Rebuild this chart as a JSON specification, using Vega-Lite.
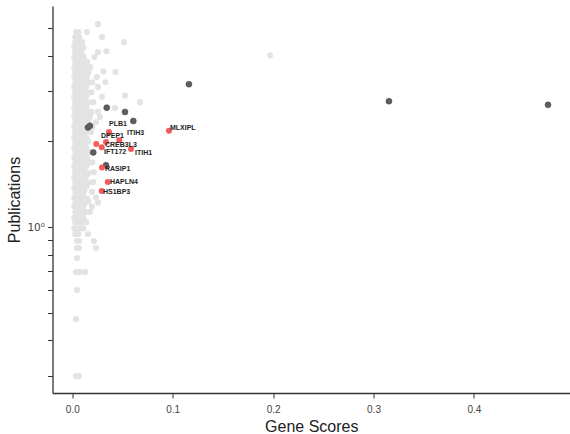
{
  "$schema": "https://vega.github.io/schema/vega-lite/v6.json",
  "autosize": {"type": "none"},
  "width": 517.5,
  "height": 387,
  "padding": {"left": 52.5, "top": 6, "right": 0, "bottom": 41},
  "background": "white",
  "config": {
    "view": {"stroke": null},
    "font": "Liberation Sans",
    "axis": {
      "grid": false,
      "domainColor": "#333333",
      "domainWidth": 1.3,
      "tickColor": "#333333",
      "tickWidth": 1,
      "tickSize": 5,
      "labelFont": "Liberation Sans",
      "labelFontSize": 10,
      "labelColor": "#444444",
      "titleFont": "Liberation Sans",
      "titleFontSize": 16,
      "titleFontWeight": "normal",
      "titleColor": "#222222"
    }
  },
  "datasets": {
    "other": [
      {"score":0.0256,"pubs":5.17},
      {"score":0.004,"pubs":4.85},{"score":0.006,"pubs":4.85},{"score":0.0146,"pubs":4.85},
      {"score":0.003,"pubs":4.66},{"score":0.007,"pubs":4.66},{"score":0.0296,"pubs":4.66},
      {"score":0.003,"pubs":4.47},{"score":0.006,"pubs":4.47},{"score":0.010,"pubs":4.47},{"score":0.0515,"pubs":4.47},
      {"score":0.002,"pubs":4.30},{"score":0.005,"pubs":4.30},{"score":0.008,"pubs":4.32},{"score":0.011,"pubs":4.28},
      {"score":0.003,"pubs":4.12},{"score":0.006,"pubs":4.12},{"score":0.009,"pubs":4.14},{"score":0.0256,"pubs":4.12},{"score":0.034,"pubs":4.15},
      {"score":0.197,"pubs":4.02},
      {"score":0.002,"pubs":3.96},{"score":0.005,"pubs":3.98},{"score":0.008,"pubs":3.95},{"score":0.0115,"pubs":3.97},{"score":0.022,"pubs":3.96},
      {"score":0.003,"pubs":3.80},{"score":0.006,"pubs":3.80},{"score":0.009,"pubs":3.82},{"score":0.012,"pubs":3.79},{"score":0.015,"pubs":3.81},
      {"score":0.002,"pubs":3.65},{"score":0.005,"pubs":3.66},{"score":0.008,"pubs":3.64},{"score":0.011,"pubs":3.66},{"score":0.014,"pubs":3.64},{"score":0.018,"pubs":3.65},
      {"score":0.003,"pubs":3.51},{"score":0.006,"pubs":3.52},{"score":0.009,"pubs":3.50},{"score":0.012,"pubs":3.52},{"score":0.016,"pubs":3.50},{"score":0.031,"pubs":3.53},{"score":0.043,"pubs":3.51},
      {"score":0.002,"pubs":3.37},{"score":0.005,"pubs":3.38},{"score":0.008,"pubs":3.36},{"score":0.011,"pubs":3.38},{"score":0.0145,"pubs":3.37},{"score":0.0246,"pubs":3.37},
      {"score":0.003,"pubs":3.23},{"score":0.006,"pubs":3.24},{"score":0.009,"pubs":3.22},{"score":0.012,"pubs":3.24},{"score":0.016,"pubs":3.22},{"score":0.020,"pubs":3.23},{"score":0.033,"pubs":3.23},
      {"score":0.002,"pubs":3.11},{"score":0.005,"pubs":3.10},{"score":0.008,"pubs":3.12},{"score":0.011,"pubs":3.10},{"score":0.014,"pubs":3.12},{"score":0.0256,"pubs":3.11},
      {"score":0.003,"pubs":2.98},{"score":0.006,"pubs":2.99},{"score":0.009,"pubs":2.97},{"score":0.012,"pubs":2.99},{"score":0.015,"pubs":2.97},{"score":0.019,"pubs":2.98},
      {"score":0.002,"pubs":2.87},{"score":0.005,"pubs":2.86},{"score":0.008,"pubs":2.88},{"score":0.011,"pubs":2.86},{"score":0.014,"pubs":2.88},{"score":0.0296,"pubs":2.87},{"score":0.0525,"pubs":2.90},
      {"score":0.003,"pubs":2.75},{"score":0.006,"pubs":2.76},{"score":0.009,"pubs":2.74},{"score":0.012,"pubs":2.76},{"score":0.016,"pubs":2.74},{"score":0.021,"pubs":2.75},{"score":0.0675,"pubs":2.75},
      {"score":0.002,"pubs":2.64},{"score":0.005,"pubs":2.65},{"score":0.008,"pubs":2.63},{"score":0.011,"pubs":2.65},{"score":0.014,"pubs":2.63},{"score":0.0425,"pubs":2.62},
      {"score":0.003,"pubs":2.54},{"score":0.006,"pubs":2.53},{"score":0.009,"pubs":2.55},{"score":0.012,"pubs":2.53},{"score":0.015,"pubs":2.55},{"score":0.019,"pubs":2.54},{"score":0.0256,"pubs":2.54},
      {"score":0.002,"pubs":2.44},{"score":0.005,"pubs":2.45},{"score":0.008,"pubs":2.43},{"score":0.011,"pubs":2.45},{"score":0.014,"pubs":2.43},{"score":0.0176,"pubs":2.44},{"score":0.0276,"pubs":2.44},
      {"score":0.003,"pubs":2.34},{"score":0.006,"pubs":2.35},{"score":0.009,"pubs":2.33},{"score":0.012,"pubs":2.35},{"score":0.016,"pubs":2.33},{"score":0.0236,"pubs":2.34},
      {"score":0.002,"pubs":2.25},{"score":0.005,"pubs":2.26},{"score":0.008,"pubs":2.24},{"score":0.011,"pubs":2.26},{"score":0.020,"pubs":2.25},
      {"score":0.003,"pubs":2.16},{"score":0.006,"pubs":2.15},{"score":0.009,"pubs":2.17},{"score":0.012,"pubs":2.15},{"score":0.015,"pubs":2.17},{"score":0.0186,"pubs":2.16},
      {"score":0.002,"pubs":2.07},{"score":0.005,"pubs":2.08},{"score":0.008,"pubs":2.06},{"score":0.011,"pubs":2.08},{"score":0.014,"pubs":2.06},
      {"score":0.003,"pubs":1.99},{"score":0.006,"pubs":1.98},{"score":0.009,"pubs":2.00},{"score":0.012,"pubs":1.98},{"score":0.016,"pubs":2.00},
      {"score":0.002,"pubs":1.91},{"score":0.005,"pubs":1.92},{"score":0.008,"pubs":1.90},{"score":0.011,"pubs":1.92},{"score":0.014,"pubs":1.90},
      {"score":0.003,"pubs":1.84},{"score":0.006,"pubs":1.83},{"score":0.009,"pubs":1.85},{"score":0.013,"pubs":1.83},{"score":0.0176,"pubs":1.84},
      {"score":0.002,"pubs":1.76},{"score":0.005,"pubs":1.77},{"score":0.008,"pubs":1.75},{"score":0.011,"pubs":1.77},{"score":0.015,"pubs":1.75},
      {"score":0.003,"pubs":1.69},{"score":0.006,"pubs":1.70},{"score":0.009,"pubs":1.68},{"score":0.012,"pubs":1.70},{"score":0.016,"pubs":1.68},{"score":0.020,"pubs":1.69},
      {"score":0.002,"pubs":1.63},{"score":0.005,"pubs":1.62},{"score":0.008,"pubs":1.64},{"score":0.011,"pubs":1.62},{"score":0.014,"pubs":1.64},
      {"score":0.003,"pubs":1.56},{"score":0.006,"pubs":1.57},{"score":0.009,"pubs":1.55},{"score":0.012,"pubs":1.57},{"score":0.016,"pubs":1.55},{"score":0.0216,"pubs":1.56},
      {"score":0.002,"pubs":1.50},{"score":0.005,"pubs":1.49},{"score":0.008,"pubs":1.51},{"score":0.011,"pubs":1.49},{"score":0.014,"pubs":1.51},
      {"score":0.003,"pubs":1.44},{"score":0.006,"pubs":1.45},{"score":0.009,"pubs":1.43},{"score":0.012,"pubs":1.45},{"score":0.016,"pubs":1.43},{"score":0.021,"pubs":1.44},
      {"score":0.002,"pubs":1.38},{"score":0.005,"pubs":1.37},{"score":0.008,"pubs":1.39},{"score":0.011,"pubs":1.37},{"score":0.014,"pubs":1.39},
      {"score":0.003,"pubs":1.33},{"score":0.006,"pubs":1.34},{"score":0.009,"pubs":1.32},{"score":0.012,"pubs":1.34},{"score":0.0196,"pubs":1.33},
      {"score":0.002,"pubs":1.27},{"score":0.005,"pubs":1.28},{"score":0.008,"pubs":1.26},{"score":0.011,"pubs":1.28},{"score":0.015,"pubs":1.26},{"score":0.0236,"pubs":1.27},
      {"score":0.003,"pubs":1.22},{"score":0.006,"pubs":1.21},{"score":0.009,"pubs":1.23},{"score":0.012,"pubs":1.21},{"score":0.016,"pubs":1.23},{"score":0.0256,"pubs":1.22},
      {"score":0.002,"pubs":1.18},{"score":0.005,"pubs":1.17},{"score":0.008,"pubs":1.18},{"score":0.011,"pubs":1.17},{"score":0.0196,"pubs":1.18},
      {"score":0.003,"pubs":1.13},{"score":0.006,"pubs":1.13},{"score":0.009,"pubs":1.13},{"score":0.013,"pubs":1.13},{"score":0.0176,"pubs":1.13},
      {"score":0.002,"pubs":1.08},{"score":0.005,"pubs":1.08},{"score":0.008,"pubs":1.08},{"score":0.011,"pubs":1.08},
      {"score":0.003,"pubs":1.04},{"score":0.006,"pubs":1.04},{"score":0.009,"pubs":1.04},{"score":0.014,"pubs":1.04},
      {"score":0.002,"pubs":0.99},{"score":0.005,"pubs":0.99},{"score":0.008,"pubs":0.99},{"score":0.011,"pubs":0.99},
      {"score":0.003,"pubs":0.945},{"score":0.006,"pubs":0.945},{"score":0.0156,"pubs":0.945},
      {"score":0.0047,"pubs":0.893},{"score":0.0067,"pubs":0.893},{"score":0.0216,"pubs":0.893},
      {"score":0.0047,"pubs":0.844},{"score":0.0067,"pubs":0.844},{"score":0.0236,"pubs":0.844},
      {"score":0.0047,"pubs":0.778},
      {"score":0.0037,"pubs":0.695},{"score":0.0057,"pubs":0.695},{"score":0.0077,"pubs":0.695},{"score":0.0126,"pubs":0.695},
      {"score":0.0047,"pubs":0.600},
      {"score":0.0037,"pubs":0.475},
      {"score":0.0037,"pubs":0.299},{"score":0.0067,"pubs":0.299}
    ],
    "known": [
      {"score":0.1162,"pubs":3.18},
      {"score":0.3154,"pubs":2.77},
      {"score":0.4738,"pubs":2.69},
      {"score":0.0343,"pubs":2.63},
      {"score":0.0525,"pubs":2.54},
      {"score":0.0608,"pubs":2.36},
      {"score":0.0156,"pubs":2.24},
      {"score":0.0176,"pubs":2.27},
      {"score":0.0209,"pubs":1.83},
      {"score":0.0336,"pubs":1.65}
    ],
    "hits": [
      {"gene":"PLB1","score":0.0366,"pubs":2.16,"lscore":0.0366,"lpubs":2.30},
      {"gene":"ITIH3","score":0.0468,"pubs":2.02,"lscore":0.0545,"lpubs":2.14},
      {"gene":"MLXIPL","score":0.0963,"pubs":2.18,"lscore":0.0973,"lpubs":2.23},
      {"gene":"DPEP1","score":0.0336,"pubs":1.99,"lscore":0.0286,"lpubs":2.09},
      {"gene":"CREB3L3","score":0.0293,"pubs":1.91,"lscore":0.0326,"lpubs":1.94},
      {"gene":"IFT172","score":0.0239,"pubs":1.96,"lscore":0.0316,"lpubs":1.84},
      {"gene":"ITIH1","score":0.0585,"pubs":1.88,"lscore":0.0625,"lpubs":1.82},
      {"gene":"RASIP1","score":0.0296,"pubs":1.62,"lscore":0.0326,"lpubs":1.60},
      {"gene":"HAPLN4","score":0.0353,"pubs":1.44,"lscore":0.0375,"lpubs":1.44},
      {"gene":"HS1BP3","score":0.0293,"pubs":1.34,"lscore":0.0306,"lpubs":1.33}
    ]
  },
  "encoding": {
    "x": {
      "field": "score",
      "type": "quantitative",
      "scale": {"domain": [-0.0197, 0.4957], "nice": false, "zero": false},
      "axis": {"title": "Gene Scores", "values": [0, 0.1, 0.2, 0.3, 0.4], "format": ".1f", "labelPadding": 6, "titlePadding": 4}
    },
    "y": {
      "field": "pubs",
      "type": "quantitative",
      "scale": {"type": "log", "domain": [0.2608, 5.99], "nice": false},
      "axis": {
        "title": "Publications",
        "values": [0.3, 0.4, 0.5, 0.6, 0.7, 0.8, 0.9, 1, 2, 3, 4, 5],
        "labelExpr": "datum.value == 1 ? '10⁰' : ''",
        "labelFont": "DejaVu Sans",
        "labelFontSize": 10.5,
        "labelPadding": 3,
        "titlePadding": 4
      }
    }
  },
  "layer": [
    {
      "data": {"name": "other"},
      "mark": {"type": "circle", "size": 38, "color": "#e3e3e3", "opacity": 1}
    },
    {
      "data": {"name": "known"},
      "mark": {"type": "circle", "size": 36, "color": "#5e5e5e", "opacity": 1, "stroke": "#444444", "strokeWidth": 0.5}
    },
    {
      "data": {"name": "hits"},
      "mark": {"type": "circle", "size": 36, "color": "#f35c5c", "opacity": 1}
    },
    {
      "data": {"name": "hits"},
      "mark": {"type": "text", "align": "left", "baseline": "middle", "font": "Liberation Sans", "fontSize": 7, "fontWeight": "bold", "color": "#222222"},
      "encoding": {
        "x": {"field": "lscore", "type": "quantitative"},
        "y": {"field": "lpubs", "type": "quantitative"},
        "text": {"field": "gene"}
      }
    },
    {
      "data": {"values": [{}]},
      "mark": {"type": "rule", "color": "#333333", "strokeWidth": 1.3},
      "encoding": {"y": {"datum": 5.99}, "x": {"datum": -0.0197}, "x2": {"datum": 0.4957}}
    }
  ]
}
